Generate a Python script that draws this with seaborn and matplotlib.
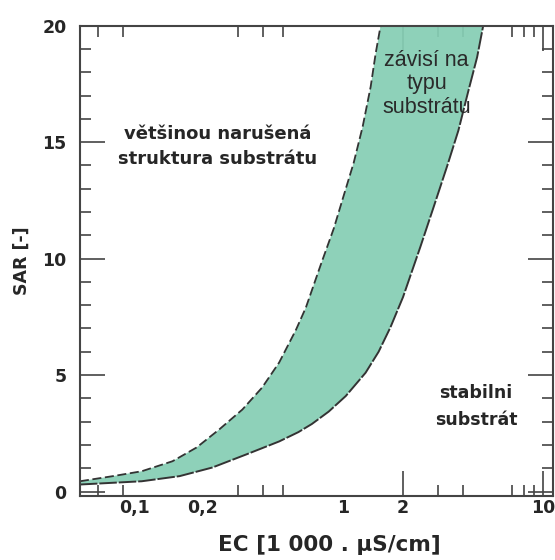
import numpy as np
import pandas as pd
import matplotlib
matplotlib.use('Agg')
import matplotlib.pyplot as plt
import matplotlib.transforms as mtransforms
import seaborn as sns
from matplotlib.ticker import FixedLocator, NullFormatter

# Data (EC in 1000 uS/cm, SAR)
EC_UPPER = [0.0486, 0.071, 0.099, 0.141, 0.186, 0.241, 0.315, 0.395, 0.481, 0.584,
            0.654, 0.777, 0.902, 1.01, 1.134, 1.257, 1.378, 1.459, 1.545]
SAR_UPPER = [0.44, 0.66, 0.87, 1.30, 1.89, 2.66, 3.52, 4.46, 5.54, 6.95,
             7.9, 9.75, 11.3, 12.7, 14.12, 15.67, 17.38, 18.8, 20.0]
EC_LOWER = [0.0486, 0.099, 0.153, 0.223, 0.329, 0.481, 0.6, 0.701, 0.85, 1.035,
            1.30, 1.51, 1.73, 2.0, 2.44, 2.84, 3.33, 3.78, 4.24, 4.69, 5.03]
SAR_LOWER = [0.30, 0.44, 0.66, 1.03, 1.59, 2.15, 2.55, 2.9, 3.43, 4.1,
             5.1, 6.0, 7.05, 8.35, 10.5, 12.2, 14.0, 15.5, 17.2, 18.65, 20.0]

X_MAJOR = [0.1, 0.2, 1, 2, 10]
X_LABELS = ['0,1', '0,2', '1', '2', '10']
X_MINOR = [0.06, 0.08, 0.3, 0.4, 0.5, 3, 4, 7, 8, 9]
Y_MAJOR = [0, 5, 10, 15, 20]

FILL = '#86ceb4'
LINE = '#333333'
BOLD = ['DejaVu Sans']

sns.set_style('ticks')
plt.rcParams['font.family'] = ['Liberation Sans', 'DejaVu Sans']

fig = plt.figure(figsize=(5.55, 5.6), dpi=100)
ax = fig.add_axes([0.144, 0.114, 0.852, 0.840])

upper = pd.DataFrame({'EC': EC_UPPER, 'SAR': SAR_UPPER})
lower = pd.DataFrame({'EC': EC_LOWER, 'SAR': SAR_LOWER})

# band between the two boundaries
ax.fill(np.concatenate([upper['EC'], lower['EC'][::-1]]),
        np.concatenate([upper['SAR'], lower['SAR'][::-1]]),
        color=FILL, alpha=0.93, lw=0, zorder=3)
sns.lineplot(data=upper, x='EC', y='SAR', ax=ax, color=LINE, lw=1.3,
             linestyle=(0, (5, 2)), zorder=4)
sns.lineplot(data=lower, x='EC', y='SAR', ax=ax, color=LINE, lw=1.4,
             linestyle=(0, (9, 1)), zorder=4)

ax.set_xscale('log')
ax.set_xlim(0.0486, 11.2)
ax.set_ylim(-0.2, 20)

ax.xaxis.set_major_locator(FixedLocator(X_MAJOR))
ax.set_xticklabels(X_LABELS)
ax.xaxis.set_minor_locator(FixedLocator(X_MINOR))
ax.xaxis.set_minor_formatter(NullFormatter())
ax.yaxis.set_major_locator(FixedLocator(Y_MAJOR))
ax.yaxis.set_minor_locator(FixedLocator(list(range(0, 21))))

ax.tick_params(which='both', direction='in', top=True, right=True,
               color='#444444', width=1.2, labelsize=12.5)
ax.tick_params(axis='x', which='major', pad=2)
ax.tick_params(axis='y', which='major', pad=9.5)
ax.tick_params(which='major', length=18)
ax.tick_params(which='minor', length=8)
for lab in ax.get_xticklabels() + ax.get_yticklabels():
    lab.set_fontweight('bold')
    lab.set_family(BOLD)

# only the 2 and 10 labels carry a visible tick on x
for t, lab in zip(ax.xaxis.get_major_ticks(), X_LABELS):
    if lab in ('0,1', '0,2', '1'):
        t.tick1line.set_markersize(0)
        t.tick2line.set_markersize(0)
# the "0,1" label sits a little left of its position in the original
lab01 = ax.get_xticklabels()[0]
lab01.set_transform(lab01.get_transform() +
                    mtransforms.ScaledTranslation(-0.08, 0, fig.dpi_scale_trans))

for s in ax.spines.values():
    s.set_color('#444444')
    s.set_linewidth(1.5)
    s.set_zorder(5)

ax.set_xlabel('EC [1 000 . µS/cm]', fontsize=15.5, fontweight='bold', family=BOLD)
ax.set_ylabel('SAR [-]', fontsize=12.5, fontweight='bold', family=BOLD)
ax.xaxis.set_label_coords(0.527, -0.082)
ax.yaxis.set_label_coords(-0.104, 0.5)

ax.text(0.236, 14.83, 'většinou narušená\nstruktura substrátu', ha='center', va='center',
        fontsize=13, fontweight='bold', family=BOLD, linespacing=1.5)
ax.text(2.62, 17.5, 'závisí na\ntypu\nsubstrátu', ha='center', va='center',
        fontsize=15.5, color='#2a2a2a', linespacing=1.16, zorder=6)
ax.text(4.64, 3.65, 'stabilni\nsubstrát', ha='center', va='center',
        fontsize=12.5, fontweight='bold', family=BOLD, linespacing=1.7)

fig.savefig('out.png', dpi=100)
